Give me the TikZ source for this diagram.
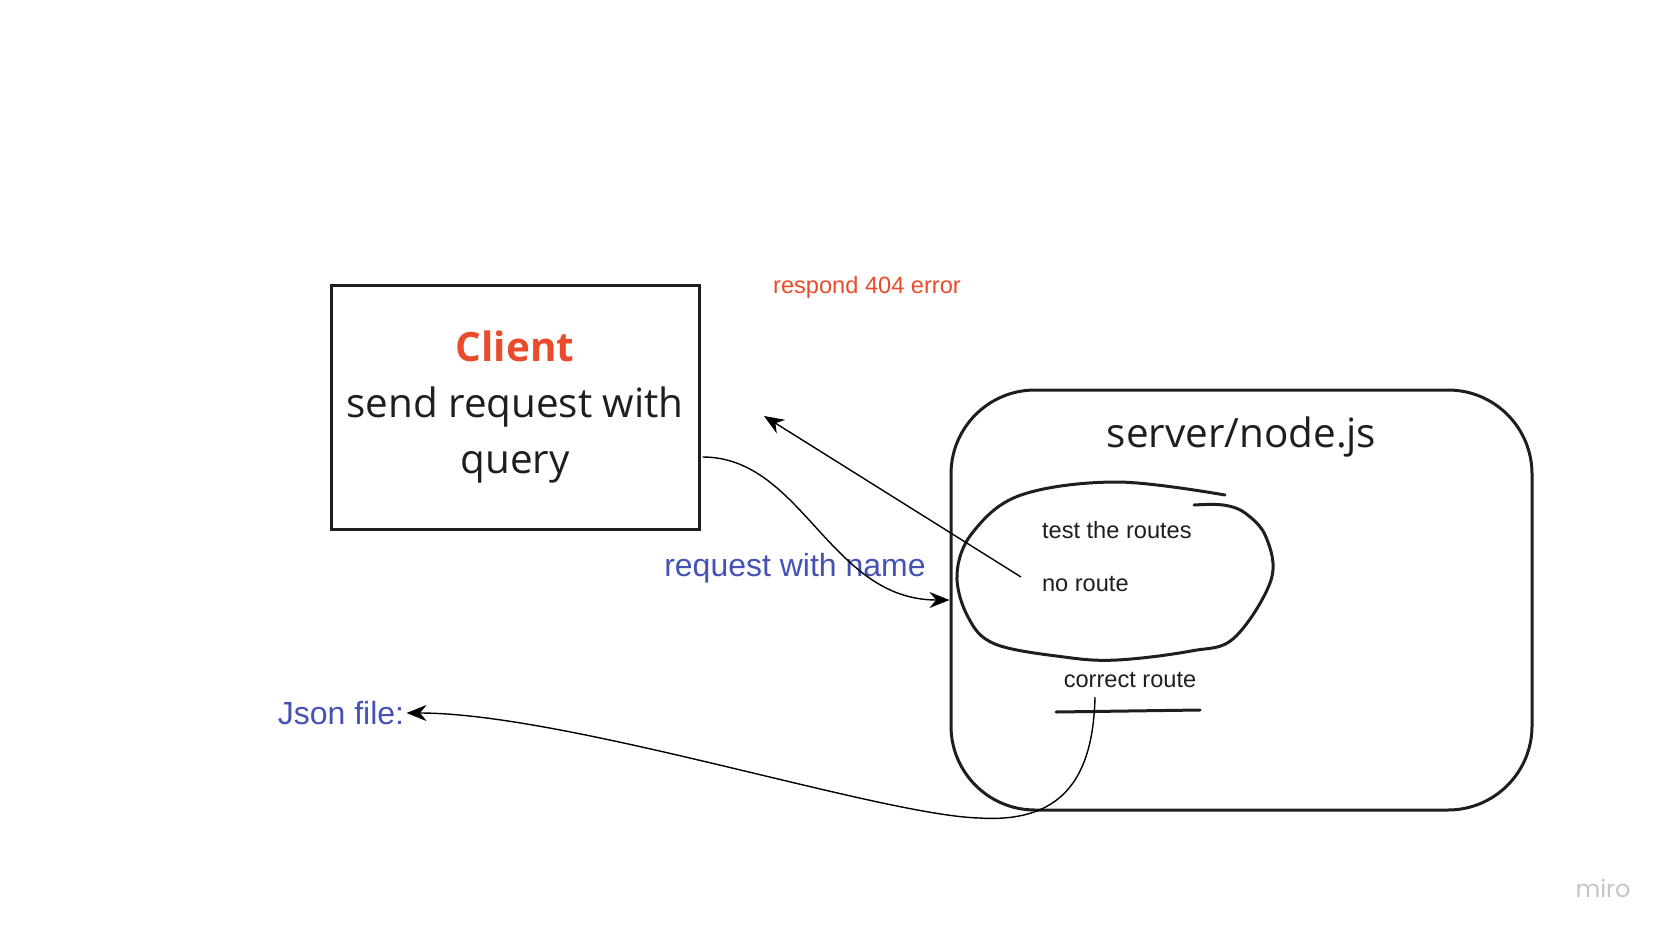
\documentclass[tikz,border=0pt]{standalone}
\usepackage{fontspec}
\setmainfont{Liberation Sans}
\newfontfamily\opensans{Open Sans}
\newfontfamily\mirofont{Poppins}
\usetikzlibrary{arrows.meta,calc}
\definecolor{miroorange}{HTML}{E94B2B}
\definecolor{miroblue}{HTML}{4352B4}
\definecolor{inkgray}{HTML}{1E1E1E}
\definecolor{marklight}{HTML}{C4C4CE}
\tikzset{
  box/.style={draw=inkgray, line width=1.5pt, inner sep=0pt},
  sketch/.style={draw=inkgray, line width=1.5pt, line cap=round},
  link/.style={draw=black, line width=0.7pt, -{Stealth[length=10pt,width=8pt]}},
  big/.style={font=\opensans\fontsize{20.2}{28}\selectfont, text=inkgray},
  small/.style={font=\fontsize{11.8}{14}\selectfont, text=inkgray},
  note/.style={font=\fontsize{16}{19}\selectfont, text=miroblue},
}

\begin{document}
\begin{tikzpicture}[x=0.5pt, y=-0.5pt]
  \useasboundingbox (0,0) rectangle (1668,936);

  % client side
  \node[box, big, align=center, minimum width=184pt, minimum height=122pt]
    at (515,407) (client)
    {{\bfseries\color{miroorange}Client}\\ send request with\\ query};

  % server side
  \node[box, rounded corners=42pt, minimum width=290.5pt, minimum height=210pt]
    at (1241.5,600) (server) {};
  \node[big] at ($(server.north)+(0,49)$) (srvlabel) {server/node.js};

  \node[small, anchor=west] at (1035,530) (test) {test the routes};
  \node[small, anchor=west] at (1035,584) (noroute) {no route};
  \node[small] at (1130,680) (correct) {correct route};

  \draw[sketch] plot[smooth, tension=0.6] coordinates {
    (1225,495) (1117,482) (1021,495) (973,532) (957,574) (968,617)
    (995,644) (1064,657) (1117,660) (1191,651) (1234,638) (1271,580)
    (1266,537) (1245,513) (1223,505) (1194,505)};
  \draw[sketch] ($(correct.center)+(-74,32)$) -- ($(correct.center)+(70,30)$);

  % labels
  \node[small, text=miroorange] at (867,287) (err) {respond 404 error};
  \node[note] at (795,568) (reqname) {request with name};
  \node[note, inner sep=1pt] at (341,713) (json) {Json file:};
  \node[font=\mirofont\fontsize{12}{14}\selectfont, text=marklight]
    at (1603,888) (miro) {miro};

  % connectors
  \draw[link] ($(client.east)+(2,50)$) .. controls +(100,0) and +(-120,0)
    .. (server.west);
  \coordinate (errtip) at (764,416);
  \draw[link] ($(noroute.west)+(-14,-7)$) -- (errtip);
  \coordinate (bend) at (979,818);
  \draw[link] ($(correct.center)+(-35,17)$) .. controls +(-2,85) and +(80,5)
    .. (bend) .. controls +(-100,-3) and +(160,0) .. (json.east);
\end{tikzpicture}
\end{document}
